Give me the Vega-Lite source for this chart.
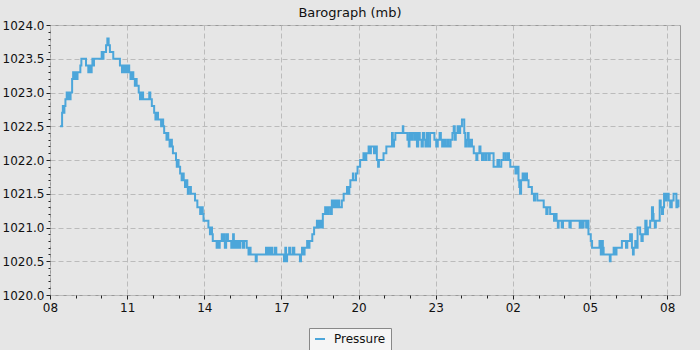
{
  "$schema": "https://vega.github.io/schema/vega-lite/v6.json",
  "width": 630,
  "height": 270,
  "autosize": {"type": "none"},
  "padding": {"left": 50, "top": 25, "right": 20, "bottom": 55},
  "background": "#e6e6e6",
  "title": {"text": "Barograph (mb)", "font": "DejaVu Sans", "fontSize": 13, "fontWeight": "normal", "color": "#111", "anchor": "middle", "dx": -15, "offset": -1},
  "config": {
    "font": "DejaVu Sans",
    "view": {"stroke": "#999", "strokeWidth": 1, "fill": "#e6e6e6"}
  },
  "data": {"values": [
    {"h":8.39,"p":1022.5},{"h":8.47,"p":1022.7},{"h":8.50,"p":1022.8},{"h":8.53,"p":1022.7},{"h":8.56,"p":1022.8},{"h":8.60,"p":1022.9},{"h":8.65,"p":1023.0},{"h":8.68,"p":1022.9},{"h":8.72,"p":1023.0},{"h":8.76,"p":1022.9},{"h":8.80,"p":1023.0},{"h":8.86,"p":1023.2},{"h":8.90,"p":1023.3},{"h":8.93,"p":1023.2},{"h":8.98,"p":1023.3},{"h":9.02,"p":1023.2},{"h":9.07,"p":1023.3},{"h":9.18,"p":1023.4},{"h":9.22,"p":1023.5},{"h":9.40,"p":1023.4},{"h":9.49,"p":1023.3},{"h":9.54,"p":1023.4},{"h":9.58,"p":1023.3},{"h":9.62,"p":1023.4},{"h":9.65,"p":1023.5},{"h":9.68,"p":1023.4},{"h":9.71,"p":1023.5},{"h":10.01,"p":1023.6},{"h":10.04,"p":1023.5},{"h":10.08,"p":1023.6},{"h":10.18,"p":1023.7},{"h":10.23,"p":1023.8},{"h":10.28,"p":1023.7},{"h":10.33,"p":1023.6},{"h":10.46,"p":1023.5},{"h":10.72,"p":1023.4},{"h":10.80,"p":1023.3},{"h":10.83,"p":1023.4},{"h":10.88,"p":1023.3},{"h":10.93,"p":1023.4},{"h":10.98,"p":1023.3},{"h":11.03,"p":1023.4},{"h":11.08,"p":1023.3},{"h":11.13,"p":1023.2},{"h":11.17,"p":1023.3},{"h":11.24,"p":1023.2},{"h":11.30,"p":1023.1},{"h":11.33,"p":1023.2},{"h":11.37,"p":1023.1},{"h":11.45,"p":1023.0},{"h":11.50,"p":1022.9},{"h":11.57,"p":1023.0},{"h":11.62,"p":1022.9},{"h":11.86,"p":1023.0},{"h":11.90,"p":1022.9},{"h":11.96,"p":1022.8},{"h":12.05,"p":1022.7},{"h":12.10,"p":1022.6},{"h":12.15,"p":1022.7},{"h":12.20,"p":1022.6},
    {"h":12.32,"p":1022.5},{"h":12.36,"p":1022.6},{"h":12.40,"p":1022.5},{"h":12.44,"p":1022.4},{"h":12.53,"p":1022.3},{"h":12.57,"p":1022.4},{"h":12.60,"p":1022.3},{"h":12.65,"p":1022.2},{"h":12.70,"p":1022.3},{"h":12.74,"p":1022.2},{"h":12.78,"p":1022.1},{"h":12.90,"p":1022.0},{"h":12.93,"p":1021.9},{"h":12.97,"p":1022.0},{"h":13.00,"p":1021.9},{"h":13.06,"p":1021.8},{"h":13.12,"p":1021.7},{"h":13.16,"p":1021.8},{"h":13.20,"p":1021.7},{"h":13.25,"p":1021.6},{"h":13.30,"p":1021.7},{"h":13.34,"p":1021.6},{"h":13.36,"p":1021.5},{"h":13.40,"p":1021.6},{"h":13.48,"p":1021.5},{"h":13.64,"p":1021.4},{"h":13.73,"p":1021.3},{"h":13.84,"p":1021.2},{"h":13.90,"p":1021.3},{"h":13.94,"p":1021.2},{"h":13.97,"p":1021.1},{"h":14.16,"p":1021.0},{"h":14.22,"p":1020.9},{"h":14.26,"p":1021.0},{"h":14.30,"p":1020.9},{"h":14.33,"p":1020.8},{"h":14.48,"p":1020.7},{"h":14.52,"p":1020.8},{"h":14.56,"p":1020.7},{"h":14.60,"p":1020.8},{"h":14.68,"p":1020.9},{"h":14.71,"p":1020.8},{"h":14.76,"p":1020.9},{"h":14.80,"p":1020.7},{"h":14.85,"p":1020.8},{"h":14.88,"p":1020.9},{"h":14.92,"p":1020.8},{"h":15.05,"p":1020.7},{"h":15.08,"p":1020.8},{"h":15.12,"p":1020.9},{"h":15.15,"p":1020.7},{"h":15.20,"p":1020.8},{"h":15.25,"p":1020.7},{"h":15.30,"p":1020.8},{"h":15.36,"p":1020.7},{"h":15.40,"p":1020.8},{"h":15.50,"p":1020.7},{"h":15.55,"p":1020.8},{"h":15.65,"p":1020.7},{"h":15.72,"p":1020.6},{"h":15.76,"p":1020.7},{"h":15.80,"p":1020.6},{"h":16.00,"p":1020.5},{"h":16.04,"p":1020.6},{"h":16.40,"p":1020.7},{"h":16.45,"p":1020.6},{"h":16.50,"p":1020.7},{"h":16.55,"p":1020.6},{"h":16.60,"p":1020.7},{"h":16.65,"p":1020.6},{"h":16.75,"p":1020.7},{"h":16.80,"p":1020.6},{"h":17.10,"p":1020.5},{"h":17.15,"p":1020.7},{"h":17.18,"p":1020.5},{"h":17.22,"p":1020.6},{"h":17.30,"p":1020.7},{"h":17.35,"p":1020.6},{"h":17.45,"p":1020.7},{"h":17.50,"p":1020.6},{"h":17.72,"p":1020.5},{"h":17.76,"p":1020.6},
    {"h":17.80,"p":1020.7},{"h":17.85,"p":1020.6},{"h":17.90,"p":1020.7},{"h":18.00,"p":1020.8},{"h":18.04,"p":1020.7},{"h":18.09,"p":1020.8},{"h":18.20,"p":1020.9},{"h":18.27,"p":1021.0},{"h":18.38,"p":1021.1},{"h":18.45,"p":1021.0},{"h":18.50,"p":1021.1},{"h":18.55,"p":1021.0},{"h":18.61,"p":1021.2},{"h":18.70,"p":1021.3},{"h":18.76,"p":1021.2},{"h":18.82,"p":1021.3},{"h":18.90,"p":1021.2},{"h":18.96,"p":1021.4},{"h":19.02,"p":1021.3},{"h":19.08,"p":1021.4},{"h":19.13,"p":1021.3},{"h":19.20,"p":1021.4},{"h":19.25,"p":1021.3},{"h":19.35,"p":1021.4},{"h":19.42,"p":1021.5},{"h":19.55,"p":1021.6},{"h":19.60,"p":1021.5},{"h":19.64,"p":1021.6},{"h":19.68,"p":1021.7},{"h":19.78,"p":1021.8},{"h":19.80,"p":1021.7},{"h":19.90,"p":1021.8},{"h":19.96,"p":1021.9},{"h":20.06,"p":1022.0},{"h":20.19,"p":1022.1},{"h":20.25,"p":1022.0},{"h":20.30,"p":1022.1},{"h":20.39,"p":1022.2},{"h":20.43,"p":1022.1},{"h":20.48,"p":1022.2},{"h":20.60,"p":1022.1},{"h":20.64,"p":1022.2},{"h":20.71,"p":1022.0},{"h":20.76,"p":1021.9},{"h":20.79,"p":1022.0},{"h":20.97,"p":1022.1},{"h":21.08,"p":1022.2},{"h":21.30,"p":1022.4},{"h":21.33,"p":1022.2},{"h":21.38,"p":1022.3},{"h":21.43,"p":1022.4},{"h":21.72,"p":1022.5},{"h":21.74,"p":1022.4},{"h":21.90,"p":1022.3},{"h":21.95,"p":1022.2},{"h":21.98,"p":1022.4},{"h":22.05,"p":1022.3},{"h":22.10,"p":1022.4},{"h":22.18,"p":1022.3},{"h":22.22,"p":1022.4},{"h":22.27,"p":1022.2},{"h":22.32,"p":1022.4},{"h":22.38,"p":1022.3},{"h":22.45,"p":1022.2},{"h":22.50,"p":1022.4},{"h":22.55,"p":1022.3},{"h":22.60,"p":1022.2},{"h":22.65,"p":1022.4},{"h":22.70,"p":1022.2},{"h":22.78,"p":1022.4},{"h":22.95,"p":1022.3},{"h":23.02,"p":1022.2},{"h":23.08,"p":1022.3},{"h":23.15,"p":1022.4},
    {"h":23.20,"p":1022.3},{"h":23.25,"p":1022.2},{"h":23.30,"p":1022.3},{"h":23.37,"p":1022.2},{"h":23.45,"p":1022.3},{"h":23.50,"p":1022.2},{"h":23.58,"p":1022.3},{"h":23.65,"p":1022.4},{"h":23.70,"p":1022.5},{"h":23.74,"p":1022.3},{"h":23.78,"p":1022.4},{"h":23.85,"p":1022.5},{"h":23.89,"p":1022.4},{"h":23.95,"p":1022.5},{"h":24.02,"p":1022.6},{"h":24.11,"p":1022.4},{"h":24.15,"p":1022.2},{"h":24.20,"p":1022.3},{"h":24.25,"p":1022.4},{"h":24.28,"p":1022.2},{"h":24.35,"p":1022.3},{"h":24.41,"p":1022.2},{"h":24.48,"p":1022.1},{"h":24.58,"p":1022.0},{"h":24.62,"p":1022.1},{"h":24.70,"p":1022.2},{"h":24.74,"p":1022.1},{"h":24.80,"p":1022.0},{"h":24.84,"p":1022.1},{"h":24.92,"p":1022.0},{"h":24.96,"p":1022.1},{"h":25.05,"p":1022.0},{"h":25.10,"p":1022.1},{"h":25.25,"p":1021.9},{"h":25.40,"p":1022.0},{"h":25.46,"p":1021.9},{"h":25.55,"p":1022.0},{"h":25.64,"p":1022.1},{"h":25.72,"p":1022.0},{"h":25.80,"p":1022.1},{"h":25.85,"p":1022.0},{"h":25.90,"p":1021.9},{"h":26.10,"p":1021.8},{"h":26.15,"p":1021.9},{"h":26.22,"p":1021.7},{"h":26.25,"p":1021.6},{"h":26.28,"p":1021.5},{"h":26.32,"p":1021.7},{"h":26.38,"p":1021.8},{"h":26.42,"p":1021.7},{"h":26.48,"p":1021.8},{"h":26.55,"p":1021.7},{"h":26.61,"p":1021.6},{"h":26.74,"p":1021.5},{"h":26.82,"p":1021.4},{"h":26.86,"p":1021.5},{"h":26.95,"p":1021.4},{"h":27.20,"p":1021.3},{"h":27.30,"p":1021.2},{"h":27.35,"p":1021.3},{"h":27.45,"p":1021.2},{"h":27.60,"p":1021.1},{"h":27.65,"p":1021.2},{"h":27.70,"p":1021.1},{"h":27.75,"p":1021.0},{"h":27.78,"p":1021.1},{"h":27.90,"p":1021.0},{"h":27.95,"p":1021.1},{"h":28.20,"p":1021.0},{"h":28.25,"p":1021.1},{"h":28.60,"p":1021.0},{"h":28.65,"p":1021.1},{"h":28.70,"p":1021.0},{"h":28.75,"p":1021.1},{"h":28.85,"p":1021.0},{"h":28.90,"p":1021.1},
    {"h":28.94,"p":1020.9},{"h":29.03,"p":1020.8},{"h":29.08,"p":1020.7},{"h":29.37,"p":1020.8},{"h":29.42,"p":1020.6},{"h":29.46,"p":1020.8},{"h":29.50,"p":1020.7},{"h":29.53,"p":1020.6},{"h":29.77,"p":1020.5},{"h":29.80,"p":1020.6},{"h":29.92,"p":1020.7},{"h":29.97,"p":1020.6},{"h":30.03,"p":1020.7},{"h":30.24,"p":1020.8},{"h":30.40,"p":1020.7},{"h":30.45,"p":1020.8},{"h":30.56,"p":1020.9},{"h":30.63,"p":1020.7},{"h":30.67,"p":1020.6},{"h":30.70,"p":1020.7},{"h":30.76,"p":1020.8},{"h":30.80,"p":1020.7},{"h":30.85,"p":1021.0},{"h":30.95,"p":1020.9},{"h":31.00,"p":1020.8},{"h":31.05,"p":1020.9},{"h":31.15,"p":1021.1},{"h":31.20,"p":1020.9},{"h":31.25,"p":1021.0},{"h":31.34,"p":1021.1},{"h":31.41,"p":1021.3},{"h":31.45,"p":1021.2},{"h":31.47,"p":1021.1},{"h":31.52,"p":1021.0},{"h":31.56,"p":1021.1},{"h":31.71,"p":1021.4},{"h":31.75,"p":1021.3},{"h":31.80,"p":1021.2},{"h":31.84,"p":1021.3},{"h":31.88,"p":1021.5},{"h":31.93,"p":1021.4},{"h":31.98,"p":1021.5},{"h":32.06,"p":1021.4},{"h":32.12,"p":1021.3},{"h":32.18,"p":1021.4},{"h":32.25,"p":1021.5},{"h":32.36,"p":1021.3},{"h":32.40,"p":1021.4},{"h":32.44,"p":1021.3}
  ]},
  "mark": {"type": "line", "interpolate": "step-after", "strokeWidth": 2},
  "encoding": {
    "x": {
      "field": "h", "type": "quantitative",
      "scale": {"domain": [8, 32.5], "nice": false, "zero": false},
      "axis": {
        "title": null, "domain": false,
        "values": [8,9,10,11,12,13,14,15,16,17,18,19,20,21,22,23,24,25,26,27,28,29,30,31,32],
        "labelExpr": "datum.value % 3 == 2 ? ((datum.value % 24) < 10 ? '0' : '') + (datum.value % 24) : ''",
        "labelOverlap": false, "labelFlush": false,
        "labelFontSize": 12, "labelColor": "#111", "labelPadding": 3,
        "tickColor": "#222",
        "tickSize": {"condition": {"test": "datum.value % 3 == 2", "value": 4}, "value": 3},
        "grid": true, "gridColor": "#bbbbbb", "gridDash": [5, 3],
        "gridOpacity": {"condition": {"test": "datum.value % 3 == 2", "value": 1}, "value": 0}
      }
    },
    "y": {
      "field": "p", "type": "quantitative",
      "scale": {"domain": [1020, 1024], "nice": false, "zero": false},
      "axis": {
        "title": null, "domain": false,
        "values": [1020,1020.1,1020.2,1020.3,1020.4,1020.5,1020.6,1020.7,1020.8,1020.9,1021,1021.1,1021.2,1021.3,1021.4,1021.5,1021.6,1021.7,1021.8,1021.9,1022,1022.1,1022.2,1022.3,1022.4,1022.5,1022.6,1022.7,1022.8,1022.9,1023,1023.1,1023.2,1023.3,1023.4,1023.5,1023.6,1023.7,1023.8,1023.9,1024],
        "labelExpr": "round(datum.value * 10) % 5 == 0 ? format(datum.value, '.1f') : ''",
        "labelOverlap": false, "labelFlush": false,
        "labelFontSize": 12, "labelColor": "#111", "labelPadding": 2,
        "tickColor": "#222",
        "tickSize": {"condition": {"test": "round(datum.value * 10) % 5 == 0", "value": 4}, "value": 2},
        "grid": true, "gridColor": "#bbbbbb", "gridDash": [5, 3],
        "gridOpacity": {"condition": {"test": "round(datum.value * 10) % 5 == 0", "value": 1}, "value": 0}
      }
    },
    "color": {
      "datum": "Pressure", "type": "nominal",
      "scale": {"range": ["#4ca6da"]},
      "legend": {
        "title": null, "orient": "none", "legendX": 259, "legendY": 303,
        "padding": 5, "fillColor": "#f5f5f5", "strokeColor": "#888",
        "symbolType": "stroke", "symbolStrokeWidth": 2, "symbolSize": 100,
        "labelFontSize": 12, "labelColor": "#111", "labelOffset": 8
      }
    }
  }
}
